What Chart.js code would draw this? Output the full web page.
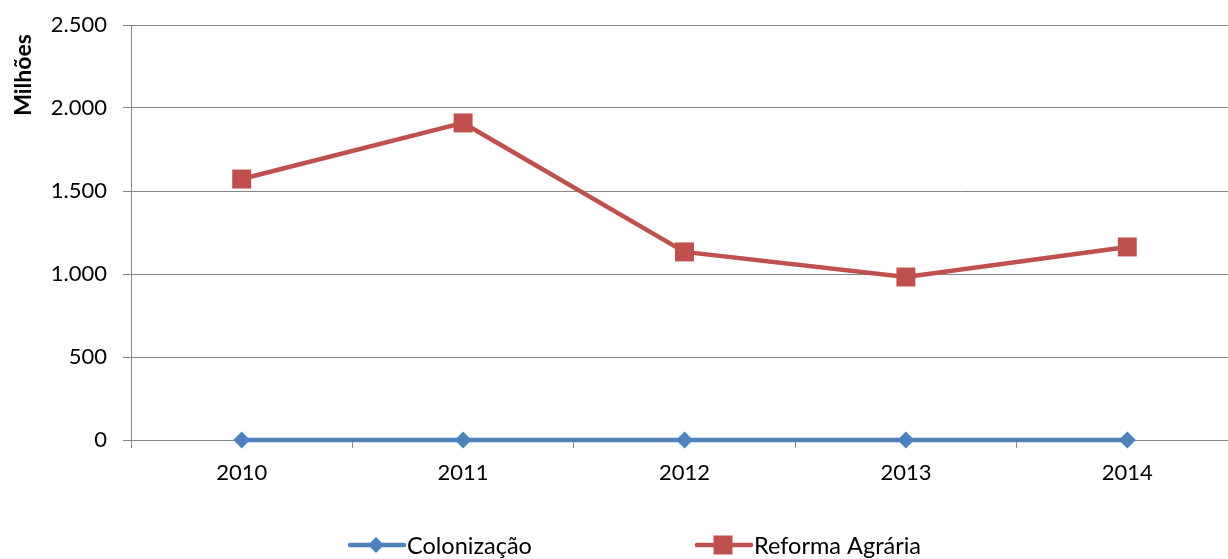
<!DOCTYPE html>
<html>
<head>
<meta charset="utf-8">
<script src="https://cdn.jsdelivr.net/npm/chart.js@4/dist/chart.umd.min.js"></script>
<style>
  html, body { margin: 0; padding: 0; background: #fff; overflow: hidden; }
  #wrap { width: 1228px; height: 559px; overflow: hidden; position: relative; }
  #box { width: 1260px; height: 559px; position: absolute; left: 0; top: 0; }
</style>
</head>
<body>
<div id="wrap"><div id="box"><canvas id="c" width="1260" height="559"></canvas></div></div>
<script>
const categories = ['2010', '2011', '2012', '2013', '2014'];
const colonizacao = [0, 0, 0, 0, 0];
const reformaAgraria = [1572, 1910, 1133, 982, 1163];
const yTicks = [0, 500, 1000, 1500, 2000, 2500];
const seriesNames = ['Colonização', 'Reforma Agrária'];
const yTitle = 'Milhões';

const FONT = 'Lato, "Open Sans", sans-serif';
const BLUE = '#4F81BD';
const RED = '#C0504D';
const GRID = '#868686';
const PLOT_RIGHT = 1238;

function fmt(v) {
  return v.toString().replace(/\B(?=(\d{3})+(?!\d))/g, '.');
}

const extras = {
  id: 'extras',
  afterDraw(chart) {
    const ctx = chart.ctx;
    ctx.save();
    ctx.font = 'bold 23px ' + FONT;
    ctx.fillStyle = '#000';
    ctx.textAlign = 'center';
    ctx.textBaseline = 'middle';
    ctx.translate(24, 75);
    ctx.rotate(-Math.PI / 2);
    ctx.fillText(yTitle, 0, 0);
    ctx.restore();

    const items = [
      { name: seriesNames[0], color: BLUE, style: 'rectRot', r: 8, x: 348 },
      { name: seriesNames[1], color: RED, style: 'rect', r: 9.5, x: 695 }
    ];
    const ly = 545;
    items.forEach(it => {
      ctx.save();
      ctx.strokeStyle = it.color;
      ctx.lineWidth = 4.5;
      ctx.lineCap = 'round';
      ctx.beginPath();
      ctx.moveTo(it.x + 2, ly);
      ctx.lineTo(it.x + 56, ly);
      ctx.stroke();
      ctx.fillStyle = it.color;
      const cx = it.x + 28;
      ctx.beginPath();
      if (it.style === 'rectRot') {
        ctx.moveTo(cx, ly - it.r);
        ctx.lineTo(cx + it.r, ly);
        ctx.lineTo(cx, ly + it.r);
        ctx.lineTo(cx - it.r, ly);
      } else {
        ctx.rect(cx - it.r, ly - it.r, it.r * 2, it.r * 2);
      }
      ctx.closePath();
      ctx.fill();
      ctx.fillStyle = '#000';
      ctx.font = '23.5px ' + FONT;
      ctx.textAlign = 'left';
      ctx.textBaseline = 'middle';
      ctx.fillText(it.name, it.x + 59, ly + 1);
      ctx.restore();
    });
  }
};

new Chart(document.getElementById('c'), {
  type: 'line',
  data: {
    labels: categories,
    datasets: [
      {
        label: seriesNames[0],
        data: colonizacao,
        borderColor: BLUE,
        backgroundColor: BLUE,
        borderWidth: 4.5,
        pointStyle: 'rectRot',
        pointRadius: 8.5,
        pointHoverRadius: 8.5,
        pointBorderWidth: 0,
        tension: 0,
        clip: false
      },
      {
        label: seriesNames[1],
        data: reformaAgraria,
        borderColor: RED,
        backgroundColor: RED,
        borderWidth: 4.5,
        pointStyle: 'rect',
        pointRadius: 13.4,
        pointHoverRadius: 13.4,
        pointBorderWidth: 0,
        tension: 0,
        clip: false
      }
    ]
  },
  options: {
    responsive: false,
    animation: false,
    events: [],
    layout: { padding: { top: 25, right: 1260 - PLOT_RIGHT, left: 0, bottom: 0 } },
    plugins: {
      legend: { display: false },
      tooltip: { enabled: false },
      title: { display: false }
    },
    scales: {
      x: {
        offset: true,
        grid: {
          offset: true,
          drawOnChartArea: false,
          drawTicks: true,
          tickLength: 8,
          color: GRID,
          lineWidth: 1
        },
        border: { display: true, color: GRID, width: 1 },
        ticks: {
          color: '#000',
          font: { family: FONT, size: 22 },
          padding: 12,
          maxRotation: 0
        },
        afterFit(scale) { scale.height = 119; scale.paddingRight = 0; scale.paddingLeft = 0; }
      },
      y: {
        min: 0,
        max: 2500,
        afterBuildTicks(scale) { scale.ticks = yTicks.map(v => ({ value: v })); },
        grid: {
          color: GRID,
          lineWidth: 1,
          drawTicks: true,
          tickLength: 8
        },
        border: { display: true, color: GRID, width: 1 },
        ticks: {
          color: '#000',
          font: { family: FONT, size: 22 },
          padding: 16,
          callback: v => fmt(v)
        },
        afterFit(scale) { scale.width = 131; scale.paddingTop = 0; scale.paddingBottom = 0; }
      }
    }
  },
  plugins: [extras]
});
</script>
</body>
</html>
